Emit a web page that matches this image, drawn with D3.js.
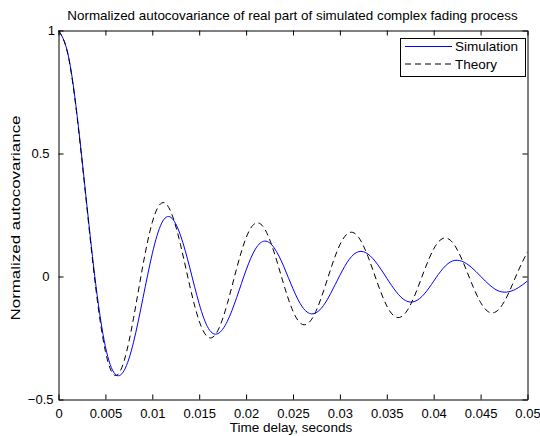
<!DOCTYPE html>
<html><head><meta charset="utf-8">
<script src="https://cdn.jsdelivr.net/npm/d3@7"></script>
<style>body{margin:0;background:#fff}svg{display:block}text{font-family:"Liberation Sans",Arial,sans-serif;fill:#000}</style>
</head><body><svg id="c" width="540" height="436"></svg>
<script>
const titleText = "Normalized autocovariance of real part of simulated complex fading process";
const xLabelText = "Time delay, seconds";
const yLabelText = "Normalized autocovariance";
const seriesNames = ["Simulation", "Theory"];
const xTicks = [0,0.005,0.01,0.015,0.02,0.025,0.03,0.035,0.04,0.045,0.05];
const xTickLabels = ["0","0.005","0.01","0.015","0.02","0.025","0.03","0.035","0.04","0.045","0.05"];
const yTicks = [-0.5,0,0.5,1];
const yTickLabels = ["\u22120.5","0","0.5","1"];
// time delays, step 0.001 s
const delays = d3.range(51).map(i => +(i*0.001).toFixed(3));
const simulation = [1,0.906,0.650,0.300,-0.040,-0.285,-0.395,-0.382,-0.267,-0.089,
  0.093,0.217,0.240,0.168,0.035,-0.111,-0.212,-0.232,-0.182,-0.085,
  0.026,0.112,0.144,0.116,0.042,-0.050,-0.124,-0.152,-0.130,-0.070,
  0.005,0.070,0.101,0.091,0.050,-0.007,-0.062,-0.098,-0.101,-0.071,
  -0.019,0.033,0.063,0.062,0.038,0.001,-0.036,-0.060,-0.062,-0.046,-0.018];
const theory = [1,0.9037,0.6425,0.2905,-0.0550,-0.3042,-0.4020,-0.3426,-0.1695,0.0452,
  0.2206,0.2989,0.2611,0.1305,-0.0383,-0.1813,-0.2481,-0.2188,-0.1101,0.0337,
  0.1576,0.2166,0.1921,0.0969,-0.0305,-0.1412,-0.1947,-0.1732,-0.0876,0.0280,
  0.1291,0.1784,0.1590,0.0805,-0.0260,-0.1196,-0.1655,-0.1478,-0.0749,0.0244,
  0.1120,0.1551,0.1387,0.0703,-0.0231,-0.1056,-0.1465,-0.1311,-0.0665,0.0219,0.1003];

const L=58.5, R=527.5, T=30.5, B=399.5;
const svg = d3.select("#c");
const x = d3.scaleLinear().domain([0,0.05]).range([L,R]);
const y = d3.scaleLinear().domain([-0.5,1]).range([B,T]);

svg.append("clipPath").attr("id","cp").append("rect")
  .attr("x",L).attr("y",T-2).attr("width",R-L).attr("height",B-T+4);

const line = (vals) => d3.line().x((d,i)=>x(delays[i])).y(d=>y(d)).curve(d3.curveNatural)(vals);

const g = svg.append("g").attr("clip-path","url(#cp)");
g.append("path").attr("d",line(simulation)).attr("fill","none").attr("stroke","#0000ff").attr("stroke-width",1);
g.append("path").attr("d",line(theory)).attr("fill","none").attr("stroke","#000").attr("stroke-width",1).attr("stroke-dasharray","6,4");

// axes (MATLAB box style, inward ticks)
const fs = "13px";
const axB = svg.append("g").attr("transform",`translate(0,${B})`)
  .call(d3.axisBottom(x).tickValues(xTicks).tickFormat((d,i)=>xTickLabels[i]).tickSizeInner(-5).tickSizeOuter(0).tickPadding(9.5));
const axT = svg.append("g").attr("transform",`translate(0,${T})`)
  .call(d3.axisTop(x).tickValues(xTicks).tickFormat("").tickSizeInner(-5).tickSizeOuter(0));
const axL = svg.append("g").attr("transform",`translate(${L},0)`)
  .call(d3.axisLeft(y).tickValues(yTicks).tickFormat((d,i)=>yTickLabels[i]).tickSizeInner(-5).tickSizeOuter(0).tickPadding(5));
const axR = svg.append("g").attr("transform",`translate(${R},0)`)
  .call(d3.axisRight(y).tickValues(yTicks).tickFormat("").tickSizeInner(-5).tickSizeOuter(0));
[axB,axT,axL,axR].forEach(a=>{
  a.selectAll("path.domain").attr("stroke","#000").attr("stroke-width",1);
  a.selectAll("line").attr("stroke","#000");
  a.selectAll("text").style("font-size",fs).attr("fill","#000").style("font-family",'"Liberation Sans",Arial,sans-serif');
});
// label offsets as in the reference (end labels sit closer to the axis)
const yLabelGap = {"-0.5":-5, "0":-9, "0.5":-9, "1":-3.5};
axL.selectAll(".tick text").attr("x", d => yLabelGap[String(d)]);

svg.append("text").attr("x",292.5).attr("y",20).attr("text-anchor","middle").style("font-size","13.4px").text(titleText);
svg.append("text").attr("x",291).attr("y",432).attr("text-anchor","middle").style("font-size","13.5px").text(xLabelText);
svg.append("text").attr("transform",`translate(19.5,218) rotate(-90)`).attr("text-anchor","middle")
  .style("font-size","12.5px").attr("textLength",205).attr("lengthAdjust","spacingAndGlyphs").text(yLabelText);

// legend
const lg = svg.append("g");
lg.append("rect").attr("x",400.5).attr("y",38.5).attr("width",125).attr("height",38).attr("fill","#fff").attr("stroke","#000");
const cols = ["#0000ff","#000"], dashes = [null,"6,4"];
seriesNames.forEach((n,i)=>{
  const yy = 46.5 + i*17.5;
  lg.append("line").attr("x1",405).attr("x2",452).attr("y1",yy).attr("y2",yy).attr("stroke",cols[i]).attr("stroke-dasharray",dashes[i]);
  lg.append("text").attr("x",455).attr("y",yy+4.5).style("font-size","13.5px").text(n);
});
</script></body></html>
